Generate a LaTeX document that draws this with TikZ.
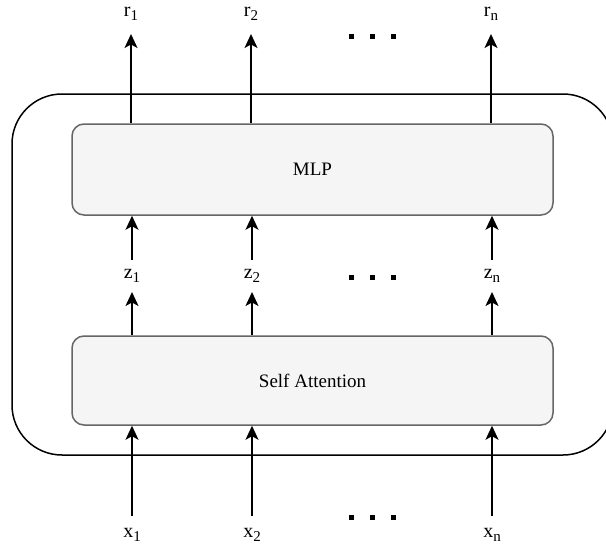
\documentclass[tikz,border=0pt]{standalone}
\usepackage{fontspec}
\setmainfont{Liberation Serif}
\usetikzlibrary{arrows.meta}

\definecolor{blockfill}{HTML}{F5F5F5}
\definecolor{blockline}{HTML}{666666}

% label with a lowered index, e.g. \vlabel{x}{1}
\newcommand{\vlabel}[2]{#1\raisebox{-4.5pt}{\fontsize{15}{15}\selectfont #2}}

\tikzset{
  layerbox/.style={draw=black, line width=1.5pt, rounded corners=50pt, inner sep=0pt},
  block/.style={draw=blockline, fill=blockfill, line width=1.5pt, rounded corners=12pt,
                inner sep=0pt, font=\fontsize{19}{20}\selectfont},
  arr/.style={draw=black, line width=1.6pt, -{Stealth[length=14pt,width=13pt,inset=3.5pt]}},
  lab/.style={inner sep=0pt, anchor=base, font=\fontsize{20}{21}\selectfont},
  dotmark/.style={fill=black, draw=none, minimum size=5pt, inner sep=0pt},
}

\begin{document}
\begin{tikzpicture}[x=1pt, y=-1pt]
  \useasboundingbox (0,0) rectangle (606,544);

  % the layer outline
  \node[layerbox, minimum width=601pt, minimum height=361pt] (layer) at (312.5,274.5) {};

  % the two blocks
  \node[block, minimum width=481pt, minimum height=91pt] (mlp) at (312.5,169.5) {MLP};
  \node[block, minimum width=481pt, minimum height=89pt] (sa)  at (312.5,380.5) {Self Attention};

  % output labels
  \node[lab] (r1) at (131,16) {\vlabel{r}{1}};
  \node[lab] (r2) at (251,16) {\vlabel{r}{2}};
  \node[lab] (rn) at (491,16) {\vlabel{r}{n}};

  % intermediate labels
  \node[lab] (z1) at (132,278) {\vlabel{z}{1}};
  \node[lab] (z2) at (252,278) {\vlabel{z}{2}};
  \node[lab] (zn) at (492,278) {\vlabel{z}{n}};

  % input labels
  \node[lab] (x1) at (132,537) {\vlabel{x}{1}};
  \node[lab] (x2) at (252,537) {\vlabel{x}{2}};
  \node[lab] (xn) at (492,537) {\vlabel{x}{n}};

  % ellipsis marks
  \foreach \row/\yy in {r/36, z/277, x/517} {
    \node[dotmark] (\row d1) at (351,\yy) {};
    \node[dotmark] (\row d2) at (372,\yy) {};
    \node[dotmark] (\row d3) at (393,\yy) {};
  }

  % inputs into self attention, then on through the MLP
  \foreach \c in {1,2,n} {
    \draw[arr] ([yshift=21pt]x\c.base) -- (sa.south -| x\c);
    \draw[arr] (sa.north -| z\c) -- ([yshift=-14pt]z\c.base);
    \draw[arr] ([yshift=18pt]z\c.base) -- (mlp.south -| z\c);
    \draw[arr] (mlp.north -| r\c) -- ([yshift=-18pt]r\c.base);
  }
\end{tikzpicture}
\end{document}
